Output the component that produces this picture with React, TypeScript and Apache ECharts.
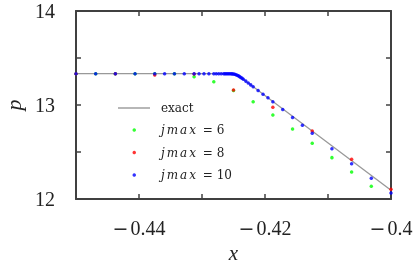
import React, { useEffect, useRef } from "react";
import * as echarts from "echarts";

const xTicks = [-0.44, -0.42, -0.4];
const yTicks = [12, 13, 14];

const exactX = [-0.45, -0.4255, -0.425, -0.4245, -0.424, -0.4235, -0.4];
const exactP = [13.333, 13.333, 13.328, 13.318, 13.3, 13.276, 12.092];

const j6X = [-0.45, -0.446875, -0.44375, -0.440625, -0.4375, -0.434375, -0.43125, -0.428125, -0.425, -0.421875, -0.41875, -0.415625, -0.4125, -0.409375, -0.40625, -0.403125];
const j6P = [13.333, 13.333, 13.333, 13.333, 13.333, 13.332, 13.301, 13.248, 13.155, 13.035, 12.894, 12.745, 12.593, 12.44, 12.287, 12.135];

const j8X = [-0.45, -0.44375, -0.4375, -0.43125, -0.425, -0.41875, -0.4125, -0.40625, -0.4];
const j8P = [13.333, 13.333, 13.319, 13.33, 13.16, 12.976, 12.723, 12.422, 12.103];

const j10X = [
  -0.45, -0.446875, -0.44375, -0.440625, -0.4375, -0.4359375, -0.434375, -0.4328125, -0.43125,
  -0.4304688, -0.4296875, -0.4289063, -0.428125, -0.4277344, -0.4273438, -0.4269531, -0.4265625,
  -0.4263672, -0.4261719, -0.4259766, -0.4257813, -0.4255859, -0.4253906, -0.4251953, -0.425,
  -0.4248047, -0.4246094, -0.4244141, -0.4242188, -0.4240234, -0.4238281, -0.4236328, -0.4234375,
  -0.4230469, -0.4226563, -0.4222656, -0.421875, -0.4210938, -0.4203125, -0.4195313, -0.41875,
  -0.4171875, -0.415625, -0.4140625, -0.4125, -0.409375, -0.40625, -0.403125, -0.4,
];
const j10P = [
  13.333, 13.333, 13.333, 13.333, 13.333, 13.333, 13.333, 13.333, 13.333,
  13.333, 13.333, 13.333, 13.333, 13.333, 13.333, 13.333, 13.333,
  13.333, 13.333, 13.333, 13.333, 13.333, 13.332, 13.331, 13.329,
  13.326, 13.322, 13.317, 13.31, 13.302, 13.293, 13.284, 13.274,
  13.254, 13.234, 13.214, 13.195, 13.155, 13.115, 13.076, 13.035,
  12.951, 12.867, 12.784, 12.699, 12.535, 12.376, 12.22, 12.064,
];

const seriesNames = ["exact", "j6", "j8", "j10"];
const legendLabels: Record<string, string> = {
  exact: "exact",
  j6: "{i|j}{i|m}{i|a}{i|x}{n| = 6}",
  j8: "{i|j}{i|m}{i|a}{i|x}{n| = 8}",
  j10: "{i|j}{i|m}{i|a}{i|x}{n| = 10}",
};

const pairs = (xs: number[], ys: number[]) => xs.map((x, i) => [x, ys[i]]);

const SERIF = "'Liberation Serif', 'DejaVu Serif', serif";
const DJ = "'DejaVu Serif', serif";
const AXIS_COLOR = "#404040";
const TEXT = "#222222";

export default function App() {
  const ref = useRef<HTMLDivElement>(null);
  useEffect(() => {
    if (!ref.current) return;
    const chart = echarts.init(ref.current, undefined, { renderer: "svg" });
    const tickCommon = {
      axisLine: { show: true, lineStyle: { color: AXIS_COLOR, width: 2 } },
      axisTick: { show: true, inside: true, length: 5, lineStyle: { color: AXIS_COLOR, width: 1.5 } },
      splitLine: { show: false },
    };
    const xFmt = (v: number) => {
      const r = Math.round(v * 100);
      if (!xTicks.some((t) => Math.round(t * 100) === r)) return "";
      return "{m|\u2212}{d|" + String(Math.abs(r / 100)) + "}";
    };
    const yFmt = (v: number) => (yTicks.some((t) => Math.abs(t - v) < 1e-6) ? String(v) : "");
    const legendRich = {
      i: { fontFamily: DJ, fontStyle: "italic" as const, fontSize: 12, color: TEXT, padding: [0, 1, 0, 1] },
      n: { fontFamily: DJ, fontSize: 12, color: TEXT, padding: [0, 0, 0, 2] },
    };
    chart.setOption({
      animation: false,
      grid: { left: 76, right: 25, top: 11, bottom: 67, containLabel: false, outerBoundsMode: "none" },
      xAxis: [
        {
          type: "value",
          min: -0.45,
          max: -0.4,
          interval: 0.01,
          name: "x",
          nameLocation: "middle",
          nameGap: 47,
          nameTextStyle: { fontFamily: SERIF, fontStyle: "italic", fontSize: 21, color: TEXT, lineHeight: 12 },
          axisLabel: {
            formatter: xFmt,
            margin: 19,
            showMinLabel: true,
            showMaxLabel: true,
            rich: {
              m: { fontFamily: DJ, fontSize: 19, color: TEXT, padding: [0, 2, 0, 0] },
              d: { fontFamily: SERIF, fontSize: 20, color: TEXT },
            },
          },
          ...tickCommon,
        },
        {
          type: "value",
          position: "top",
          min: -0.45,
          max: -0.4,
          interval: 0.01,
          axisLabel: { show: false },
          ...tickCommon,
        },
      ],
      yAxis: [
        {
          type: "value",
          min: 12,
          max: 14,
          interval: 0.5,
          name: "p",
          nameLocation: "middle",
          nameGap: 56,
          nameTextStyle: { fontFamily: SERIF, fontStyle: "italic", fontSize: 22, color: TEXT, lineHeight: 14 },
          axisLabel: { formatter: yFmt, fontFamily: SERIF, fontSize: 20, color: TEXT, margin: 21 },
          ...tickCommon,
        },
        {
          type: "value",
          position: "right",
          min: 12,
          max: 14,
          interval: 0.5,
          axisLabel: { show: false },
          ...tickCommon,
        },
      ],
      legend: [
        {
          data: [{ name: "exact", icon: "rect" }],
          left: 113,
          top: 96,
          orient: "vertical",
          itemWidth: 32,
          itemHeight: 1.4,
          formatter: (n: string) => legendLabels[n],
          textStyle: { fontFamily: DJ, fontSize: 12, color: TEXT, lineHeight: 14, padding: [0, 0, 0, 6] },
        },
        {
          data: ["j6", "j8", "j10"],
          left: 127.5,
          top: 118,
          orient: "vertical",
          icon: "circle",
          itemWidth: 3.5,
          itemHeight: 3.5,
          itemGap: 8.5,
          formatter: (n: string) => legendLabels[n],
          textStyle: { fontFamily: DJ, fontSize: 12, color: TEXT, lineHeight: 14, padding: [0, 0, 0, 19], rich: legendRich },
        },
      ],
      series: [
        {
          name: seriesNames[0],
          type: "line",
          data: pairs(exactX, exactP),
          symbol: "none",
          lineStyle: { color: "#999999", width: 1.3 },
          itemStyle: { color: "#999999" },
          z: 1,
        },
        {
          name: seriesNames[1],
          type: "scatter",
          data: pairs(j6X, j6P),
          symbolSize: 3.5,
          itemStyle: { color: "#00ff00" },
          z: 2,
        },
        {
          name: seriesNames[2],
          type: "scatter",
          data: pairs(j8X, j8P),
          symbolSize: 3.5,
          itemStyle: { color: "#ff0000" },
          z: 3,
        },
        {
          name: seriesNames[3],
          type: "scatter",
          data: pairs(j10X, j10P),
          symbolSize: 3.5,
          itemStyle: { color: "#0000ff" },
          z: 4,
        },
      ],
    });
    return () => chart.dispose();
  }, []);
  return <div ref={ref} style={{ position: "fixed", left: 0, top: 0, width: 416, height: 266 }} />;
}
